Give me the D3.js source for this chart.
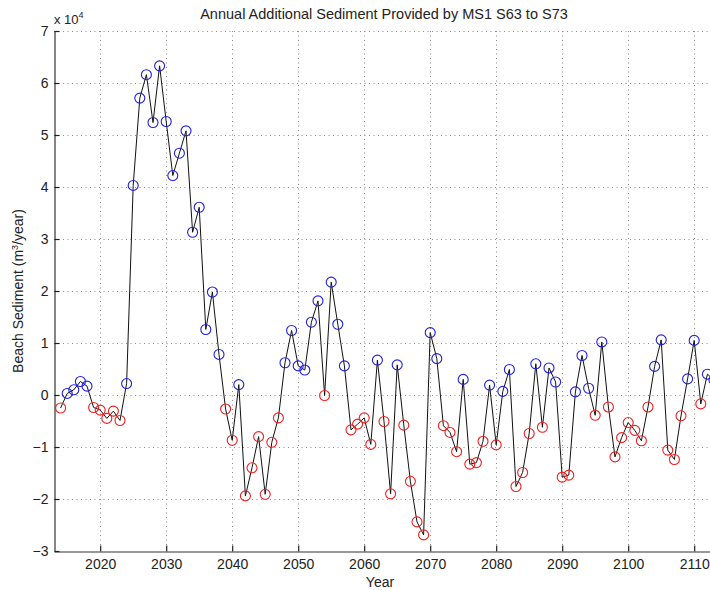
<!DOCTYPE html>
<html>
<head>
<meta charset="utf-8">
<script src="https://cdn.jsdelivr.net/npm/d3@7"></script>
<style>
  html, body { margin: 0; padding: 0; background: #fff; }
  svg { display: block; font-family: "Liberation Sans", Arial, Helvetica, sans-serif; }
</style>
</head>
<body>
<svg id="chart" width="710" height="590"></svg>
<script>
// Annual additional sediment, in units of 10^4 m^3/year
const years = d3.range(2014, 2114);
const sediment = [
  -0.25, 0.03, 0.10, 0.26, 0.17, -0.24, -0.29, -0.45, -0.31, -0.49,
  0.22, 4.03, 5.71, 6.16, 5.24, 6.33, 5.26, 4.22, 4.65, 5.08,
  3.13, 3.61, 1.26, 1.98, 0.78, -0.27, -0.87, 0.20, -1.94, -1.40,
  -0.80, -1.91, -0.91, -0.44, 0.62, 1.24, 0.56, 0.48, 1.40, 1.81,
  -0.01, 2.17, 1.36, 0.56, -0.67, -0.56, -0.44, -0.95, 0.67, -0.51,
  -1.90, 0.58, -0.58, -1.66, -2.44, -2.69, 1.20, 0.70, -0.59, -0.72,
  -1.09, 0.30, -1.33, -1.30, -0.89, 0.19, -0.96, 0.07, 0.49, -1.76,
  -1.49, -0.74, 0.60, -0.62, 0.52, 0.25, -1.58, -1.54, 0.06, 0.76,
  0.13, -0.39, 1.02, -0.23, -1.19, -0.82, -0.53, -0.68, -0.88, -0.23,
  0.55, 1.06, -1.06, -1.24, -0.40, 0.31, 1.05, -0.17, 0.40, 0.29
];
const xTicks = [2020, 2030, 2040, 2050, 2060, 2070, 2080, 2090, 2100, 2110];
const yTicks = [-3, -2, -1, 0, 1, 2, 3, 4, 5, 6, 7];

const data = years.map((yr, i) => ({ year: yr, value: sediment[i] }));

const svg = d3.select("#chart");
const plotLeft = 54, plotTop = 31, plotBottom = 551, plotRight = 714;

const x = d3.scaleLinear().domain([2013, 2113]).range([plotLeft, plotRight]);
const y = d3.scaleLinear().domain([-3, 7]).range([plotBottom, plotTop]);

// dotted grid
const grid = svg.append("g").attr("stroke", "#8a8a8a").attr("stroke-width", 1)
  .attr("stroke-dasharray", "1,3.5");
grid.selectAll("line.v").data(xTicks).join("line")
  .attr("x1", d => Math.round(x(d)) + 0.5).attr("x2", d => Math.round(x(d)) + 0.5)
  .attr("y1", plotTop).attr("y2", plotBottom);
grid.selectAll("line.h").data(yTicks.filter(d => d > -3)).join("line")
  .attr("y1", d => Math.round(y(d)) + 0.5).attr("y2", d => Math.round(y(d)) + 0.5)
  .attr("x1", plotLeft).attr("x2", plotRight);

// axes
const xAxis = d3.axisBottom(x).tickValues(xTicks).tickFormat(d3.format("d"))
  .tickSizeInner(-6).tickSizeOuter(0).tickPadding(8);
const gx = svg.append("g").attr("transform", `translate(0,${plotBottom + 0.5})`).call(xAxis);

const yAxis = d3.axisLeft(y).tickValues(yTicks)
  .tickFormat(d => d < 0 ? "\u2212" + Math.abs(d) : d)
  .tickSizeInner(-5).tickSizeOuter(0).tickPadding(6);
const gy = svg.append("g").attr("transform", `translate(${plotLeft + 0.5},0)`).call(yAxis);

[gx, gy].forEach(g => {
  g.select(".domain").attr("stroke", "#333").attr("stroke-width", 1.2);
  g.selectAll(".tick line").attr("stroke", "#222").attr("stroke-width", 1.2);
  g.selectAll(".tick text").attr("fill", "#222").style("font-size", "14px")
    .style("font-family", "'Liberation Sans', Arial, sans-serif");
});
gy.selectAll(".tick text").attr("dy", "0.35em");

// data line
const line = d3.line().x(d => x(d.year)).y(d => y(d.value));
svg.append("path").datum(data)
  .attr("fill", "none").attr("stroke", "#111").attr("stroke-width", 1)
  .attr("d", line);

// markers: blue for gains, red for losses
svg.append("g").selectAll("circle").data(data).join("circle")
  .attr("cx", d => x(d.year)).attr("cy", d => y(d.value)).attr("r", 5)
  .attr("fill", "none").attr("stroke-width", 1.1)
  .attr("stroke", d => d.value < 0 ? "#ee2020" : "#2020e0");

// title and labels
svg.append("text").attr("x", 384).attr("y", 19).attr("text-anchor", "middle")
  .style("font-size", "14.5px").attr("fill", "#222")
  .text("Annual Additional Sediment Provided by MS1 S63 to S73");

const exp = svg.append("text").attr("x", 54).attr("y", 24).style("font-size", "13px").attr("fill", "#222");
exp.append("tspan").text("x 10");
exp.append("tspan").attr("dy", -6).style("font-size", "9px").text("4");

svg.append("text").attr("x", 380).attr("y", 587).attr("text-anchor", "middle")
  .style("font-size", "14px").attr("fill", "#222").text("Year");

const yl = svg.append("text").attr("transform", "translate(23,291) rotate(-90)")
  .attr("text-anchor", "middle").style("font-size", "14px").attr("fill", "#222");
yl.append("tspan").text("Beach Sediment (m");
yl.append("tspan").attr("dy", -5).style("font-size", "9px").text("3");
yl.append("tspan").attr("dy", 5).text("/year)");
</script>
</body>
</html>
